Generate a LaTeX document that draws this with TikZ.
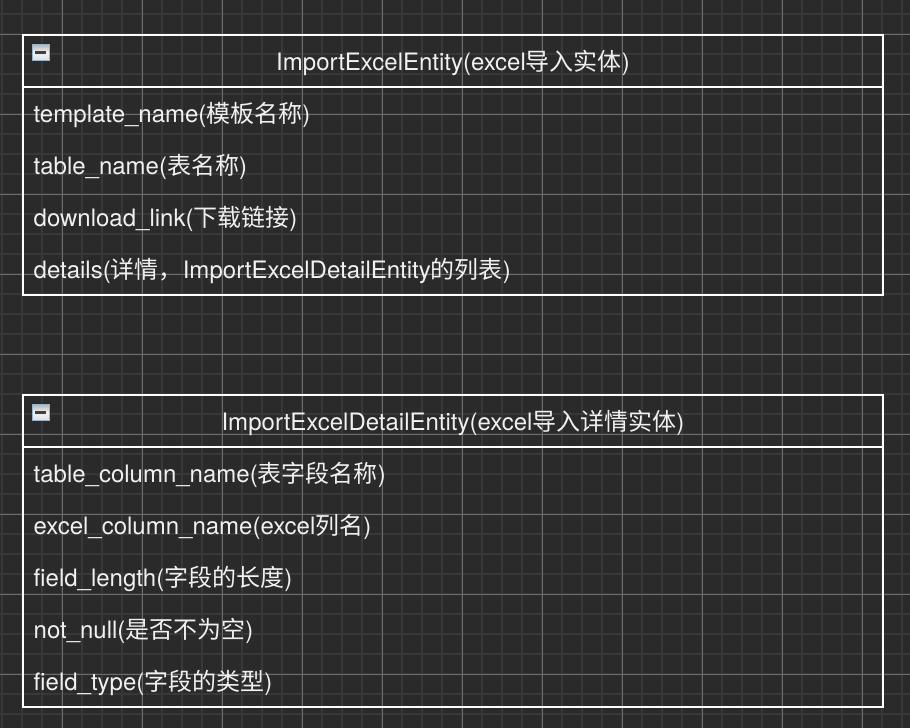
\documentclass[tikz,border=0pt]{standalone}
\usepackage{fontspec}
\usepackage{xcolor}
\usepackage{tikz}
\usetikzlibrary{positioning,fit}
\setmainfont{TeX Gyre Heros}
\newfontfamily\cjk{Noto Sans CJK SC}
\definecolor{canvasgray}{RGB}{42,42,42}
\definecolor{minorgray}{RGB}{56,56,56}
\definecolor{majorgray}{RGB}{108,108,108}
\definecolor{rowwhite}{RGB}{240,240,240}
\definecolor{iconedge}{RGB}{150,180,205}
\tikzset{
  minorline/.style = {draw=minorgray, line width=1.5pt},
  majorline/.style = {draw=majorgray, line width=0.6pt},
  headbox/.style   = {draw=white, line width=1.5pt, outer sep=0pt, minimum width=645pt, minimum height=39pt, inner sep=0pt, text=rowwhite, font=\fontsize{18}{21}\selectfont, text height=15.25pt, text depth=1.75pt},
  rowbox/.style    = {outer sep=0pt, minimum width=645pt, minimum height=39pt, inner xsep=8pt, inner ysep=0pt, text width=629pt, align=left, text=rowwhite, font=\fontsize{18}{21}\selectfont, text height=15.25pt, text depth=1.75pt},
  framebox/.style  = {draw=white, line width=1.5pt, inner sep=0pt, outer sep=0pt},
  iconbox/.style   = {minimum size=12.5pt, inner sep=0pt, outer sep=0pt, draw=iconedge, line width=0.75pt, top color=gray!60, bottom color=gray!25, middle color=gray!10},
  minusbar/.style  = {fill=black!75, minimum width=8pt, minimum height=2pt, inner sep=0pt},
}
\begin{document}
\begin{tikzpicture}[x=0.75pt, y=-0.75pt, node distance=0pt]
  \fill[canvasgray] (0,0) rectangle (910,728);
  \useasboundingbox (0,0) rectangle (910,728);
  % background grid
  \foreach \x in {2,22,...,902} \draw[minorline] (\x,0) -- (\x,728);
  \foreach \y in {14,34,...,714} \draw[minorline] (0,\y) -- (910,\y);
  \foreach \x in {62,142,...,862} \draw[majorline] (\x,0) -- (\x,728);
  \foreach \y in {34,114,...,674} \draw[majorline] (0,\y) -- (910,\y);

  % first entity
  \node[headbox] (excelhead) at (453,61) {ImportExcelEntity(excel{\cjk 导入实体})};
  \node[rowbox, below=of excelhead] (templatename) {template\_name({\cjk 模板名称})};
  \node[rowbox, below=of templatename] (tablename) {table\_name({\cjk 表名称})};
  \node[rowbox, below=of tablename] (downloadlink) {download\_link({\cjk 下载链接})};
  \node[rowbox, below=of downloadlink] (details) {details({\cjk 详情，}ImportExcelDetailEntity{\cjk 的列表})};
  \node[framebox, fit=(excelhead)(details)] (excelframe) {};
  \node[iconbox, below right=6.75pt and 7pt of excelhead.north west] (excelicon) {};
  \node[minusbar] (excelminus) at (excelicon) {};

  % second entity
  \node[headbox] (detailhead) at (453,421) {ImportExcelDetailEntity(excel{\cjk 导入详情实体})};
  \node[rowbox, below=of detailhead] (columnname) {table\_column\_name({\cjk 表字段名称})};
  \node[rowbox, below=of columnname] (excelcolumn) {excel\_column\_name(excel{\cjk 列名})};
  \node[rowbox, below=of excelcolumn] (fieldlength) {field\_length({\cjk 字段的长度})};
  \node[rowbox, below=of fieldlength] (notnull) {not\_null({\cjk 是否不为空})};
  \node[rowbox, below=of notnull] (fieldtype) {field\_type({\cjk 字段的类型})};
  \node[framebox, fit=(detailhead)(fieldtype)] (detailframe) {};
  \node[iconbox, below right=6.75pt and 7pt of detailhead.north west] (detailicon) {};
  \node[minusbar] (detailminus) at (detailicon) {};
\end{tikzpicture}
\end{document}
